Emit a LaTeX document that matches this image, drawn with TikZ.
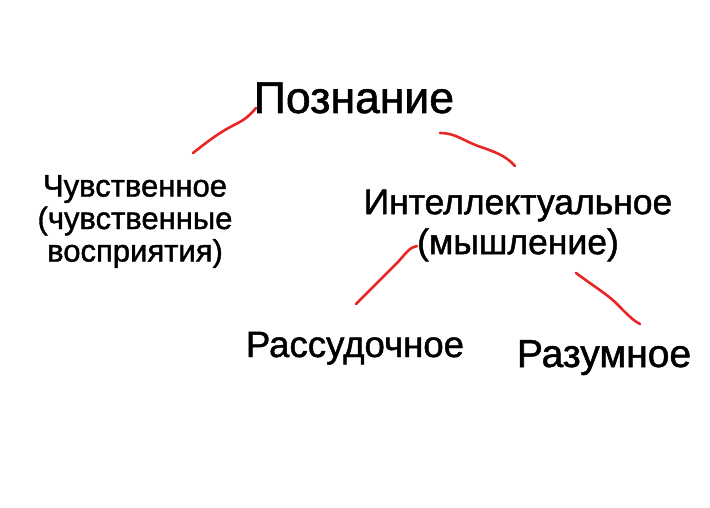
\documentclass[tikz,border=0pt]{standalone}
\usepackage{fontspec}
\setmainfont[FakeBold=1.3]{Liberation Sans}
\definecolor{pen}{RGB}{232,38,38}
\begin{document}
\begin{tikzpicture}[x=1pt,y=-1pt,
  lbl/.style={inner sep=0pt,anchor=base,text=black},
  stroke/.style={draw=pen,line width=2.6pt,line cap=round,line join=round}]
\useasboundingbox[fill=white] (0,0) rectangle (710,508);
\node[lbl,font=\fontsize{44.5}{50}\selectfont] (poz) at (354,113) {Познание};
\node[lbl,font=\fontsize{31}{32.5}\selectfont,align=center,anchor=north] (chuv) at (135,175) {Чувственное\\(чувственные\\восприятия)};
\node[lbl,font=\fontsize{35.5}{40}\selectfont,align=center,anchor=north] (int) at (518,189.5) {Интеллектуальное\\(мышление)};
\node[lbl,font=\fontsize{36.6}{40}\selectfont] (ras) at (355,357) {Рассудочное};
\node[lbl,font=\fontsize{39}{42}\selectfont] (raz) at (604,367) {Разумное};
\coordinate (a1) at (193,153); \coordinate (a2) at (256,108);
\coordinate (b1) at (440,133); \coordinate (b2) at (515,166);
\coordinate (c1) at (417,246); \coordinate (c2) at (356,304);
\coordinate (d1) at (576,273); \coordinate (d2) at (640,324);
\draw[stroke] (a1) .. controls (212,138) and (222,131) .. (236,124) .. controls (246,119) and (250,115) .. (a2);
\draw[stroke] (b1) .. controls (455,133) and (462,140) .. (478,146) .. controls (495,152) and (505,155) .. (b2);
\draw[stroke] (c2) .. controls (370,290) and (385,275) .. (398,262) .. controls (406,253) and (410,247) .. (c1);
\draw[stroke] (d1) .. controls (595,287) and (605,293) .. (615,302) .. controls (625,312) and (632,320) .. (d2);
\end{tikzpicture}
\end{document}
